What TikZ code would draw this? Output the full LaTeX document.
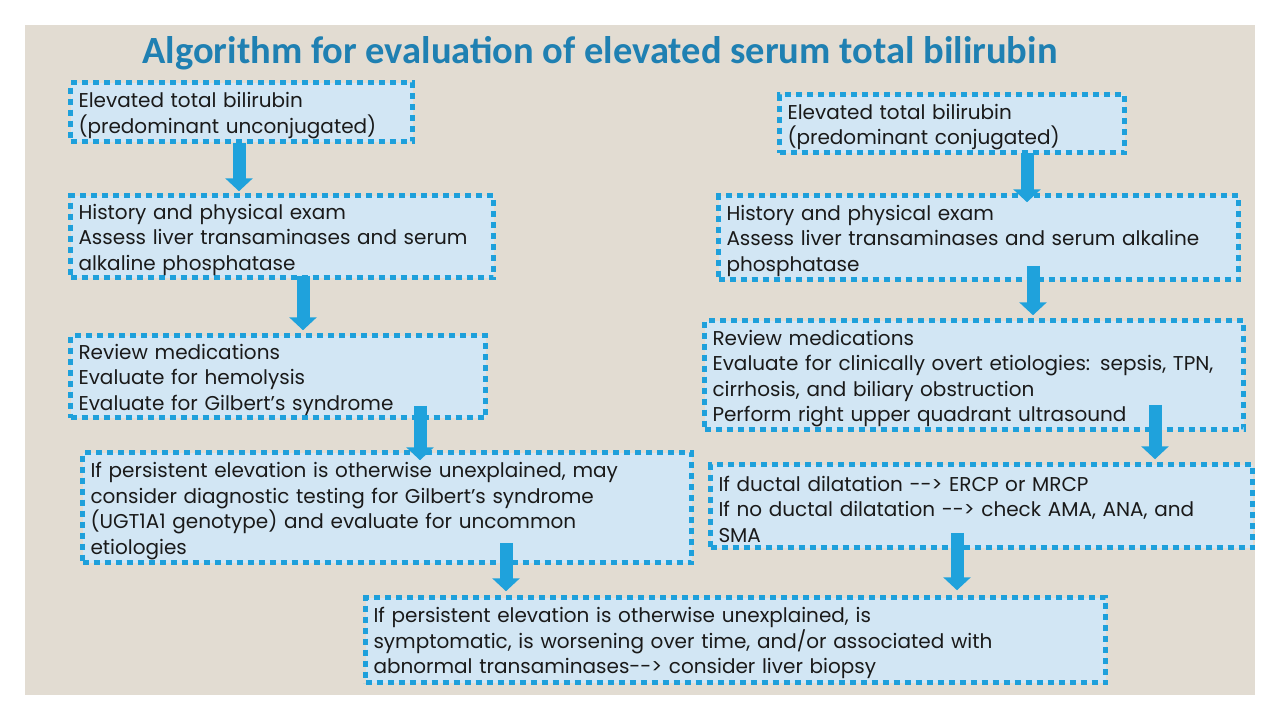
\documentclass[tikz,border=0pt]{standalone}
\usepackage{fontspec}
\setmainfont{Poppins}
\newfontfamily\titlefont{Carlito}
\usetikzlibrary{arrows.meta,calc}
\definecolor{bg}{HTML}{E2DCD2}
\definecolor{boxfill}{HTML}{D2E6F4}
\definecolor{dotblue}{HTML}{1EA0DB}
\definecolor{titleblue}{HTML}{1F80B2}
\definecolor{arrowblue}{HTML}{1FA2DC}
\definecolor{txt}{HTML}{1A1A1A}
\newcommand{\topstrut}{\rule{0pt}{22pt}}
\begin{document}
\begin{tikzpicture}[x=1pt,y=-1pt,
  box/.style={draw=dotblue, fill=boxfill, line width=5.5pt, dash pattern=on 6pt off 5pt,
    rectangle, inner xsep=8pt, inner ysep=0pt, align=left, text=txt,
    font=\fontsize{20}{25.5}\selectfont},
  barrow/.style={draw=arrowblue, line width=13pt, -{Triangle[width=27pt,length=13pt]}}
]
\useasboundingbox (0,0) rectangle (1280,720);
\fill[white] (0,0) rectangle (1280,720);
\fill[bg] (25,25) rectangle (1255,695);

\node[font=\titlefont\bfseries\fontsize{38.5}{44}\selectfont, text=titleblue] (title) at (600,53)
  {Algorithm for evaluation of elevated serum total bilirubin};

\node[box, text width=326pt, minimum height=59pt] (b1) at (241.5,112)
  {\topstrut Elevated total bilirubin\\(predominant unconjugated)};
\node[box, text width=407pt, minimum height=82pt] (b2) at (282,236.5)
  {\topstrut History and physical exam\\Assess liver transaminases and serum\\alkaline phosphatase};
\node[box, text width=399pt, minimum height=82pt] (b3) at (278,376.5)
  {\topstrut Review medications\\Evaluate for hemolysis\\Evaluate for Gilbert's syndrome};
\node[box, text width=593pt, minimum height=110pt] (b4) at (387,507.5)
  {\topstrut If persistent elevation is otherwise unexplained, may\\consider diagnostic testing for Gilbert's syndrome\\(UGT1A1 genotype) and evaluate for uncommon\\etiologies};
\node[box, text width=724pt, minimum height=85pt] (b5) at (735.5,640)
  {\topstrut If persistent elevation is otherwise unexplained, is\\symptomatic, is worsening over time, and/or associated with\\abnormal transaminases-{}-> consider liver biopsy};

\node[box, text width=329pt, minimum height=58pt] (r1) at (952,123.5)
  {\topstrut Elevated total bilirubin\\(predominant conjugated)};
\node[box, text width=504pt, minimum height=84pt] (r2) at (978.5,237.5)
  {\topstrut History and physical exam\\Assess liver transaminases and serum alkaline\\phosphatase};
\node[box, text width=523pt, minimum height=109pt] (r3) at (974,375)
  {\topstrut Review medications\\Evaluate for clinically overt etiologies: sepsis, TPN,\\cirrhosis, and biliary obstruction\\Perform right upper quadrant ultrasound};
\node[box, text width=526pt, minimum height=83pt] (r4) at (981.5,506)
  {\topstrut If ductal dilatation -{}-> ERCP or MRCP\\If no ductal dilatation -{}-> check AMA, ANA, and\\SMA};

\draw[barrow] ($(b1.south -| 239,0)+(0,-1.5)$) -- ($(b2.north -| 239,0)+(0,-1.5)$);
\draw[barrow] ($(b2.south -| 303,0)+(0,-4.5)$) -- ($(b3.north -| 303,0)+(0,-2.5)$);
\draw[barrow] ($(b3.south -| 420,0)+(0,-14.5)$) -- ($(b4.north -| 420,0)+(0,10.5)$);
\draw[barrow] ($(b4.south -| 506,0)+(0,-22.5)$) -- ($(b5.north -| 506,0)+(0,-3.5)$);
\draw[barrow] ($(r1.south -| 1027,0)+(0,-2.5)$) -- ($(r2.north -| 1027,0)+(0,9.5)$);
\draw[barrow] ($(r2.south -| 1033,0)+(0,-16.5)$) -- ($(r3.north -| 1033,0)+(0,-2.5)$);
\draw[barrow] ($(r3.south -| 1155,0)+(0,-27.5)$) -- ($(r4.north -| 1155,0)+(0,-2.5)$);
\draw[barrow] ($(r4.south -| 957,0)+(0,-17.5)$) -- ($(b5.north -| 957,0)+(0,-4.5)$);
\end{tikzpicture}
\end{document}
